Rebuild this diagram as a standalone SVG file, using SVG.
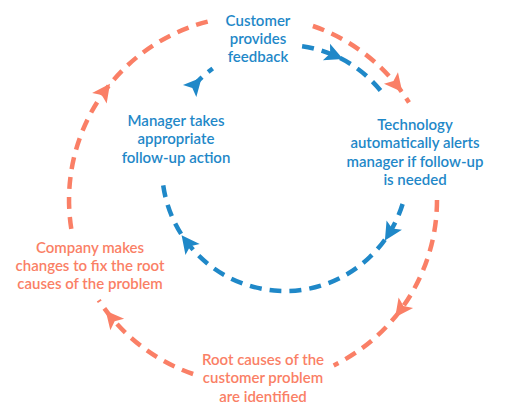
<svg xmlns="http://www.w3.org/2000/svg" width="519" height="415" viewBox="0 0 519 415">
<style>
.o{fill:none;stroke:#fa7f66;stroke-width:4.5;stroke-dasharray:12 8}
.b{fill:none;stroke:#1f88c8;stroke-width:4.5;stroke-dasharray:12 8}
.ao{fill:#fa7f66}
.ab{fill:#1f88c8}
text{font-family:Lato,"Open Sans",sans-serif;font-size:15px;font-weight:600;text-anchor:middle}
.tb{fill:#1f88c8}
.to{fill:#fa7f66}
</style>
<defs>
<path id="ah" d="M10,0 L-8,-9 L-4,0 L-8,9 Z"/>
</defs>
<rect width="519" height="415" fill="#fff"/>
<g id="connectors">
<path class="o" d="M71.3,228.8 A184,184 0 0 1 214.7,20"/>
<path class="o" d="M312.9,26 A184,184 0 0 1 409,102.5"/>
<path class="o" d="M437,200 A184,184 0 0 1 333.7,365.4"/>
<path class="o" d="M193.1,374 A184,184 0 0 1 98.7,300.2"/>
<use href="#ah" class="ao" transform="translate(104.1,91.8) rotate(-54)"/>
<use href="#ah" class="ao" transform="translate(396,84.2) rotate(51)"/>
<use href="#ah" class="ao" transform="translate(401.1,309.2) rotate(126.4)"/>
<use href="#ah" class="ao" transform="translate(112.1,318.3) rotate(230)"/>
<path class="b" d="M302.1,46.2 A123,123 0 0 1 383.2,94"/>
<path class="b" d="M402.6,204 A123,123 0 0 1 162.9,183"/>
<path class="b" d="M193.6,85.7 A123,123 0 0 1 212.7,68.5"/>
<use href="#ah" class="ab" transform="translate(333.8,55.1) rotate(23.4)"/>
<use href="#ah" class="ab" transform="translate(390.1,231.9) rotate(121.3)"/>
<use href="#ah" class="ab" transform="translate(187.7,243.2) rotate(232.3)"/>
<use href="#ah" class="ab" transform="translate(195,85) rotate(312)"/>
</g>
<g id="n-feedback"><text class="tb"><tspan x="258" y="26">Customer</tspan><tspan x="258" y="44">provides</tspan><tspan x="258" y="62">feedback</tspan></text></g>
<g id="n-technology"><text class="tb"><tspan x="415" y="130">Technology</tspan><tspan x="415" y="148.3">automatically alerts</tspan><tspan x="415" y="166.6">manager if follow-up</tspan><tspan x="415" y="185">is needed</tspan></text></g>
<g id="n-manager"><text class="tb"><tspan x="176" y="126">Manager takes</tspan><tspan x="176" y="144.3">appropriate</tspan><tspan x="176" y="162.6">follow-up action</tspan></text></g>
<g id="n-company"><text class="to"><tspan x="90" y="252.7">Company makes</tspan><tspan x="90" y="271">changes to fix the root</tspan><tspan x="90" y="289.3">causes of the problem</tspan></text></g>
<g id="n-root"><text class="to"><tspan x="263" y="365">Root causes of the</tspan><tspan x="263" y="383.3">customer problem</tspan><tspan x="263" y="401.6">are identified</tspan></text></g>
</svg>
